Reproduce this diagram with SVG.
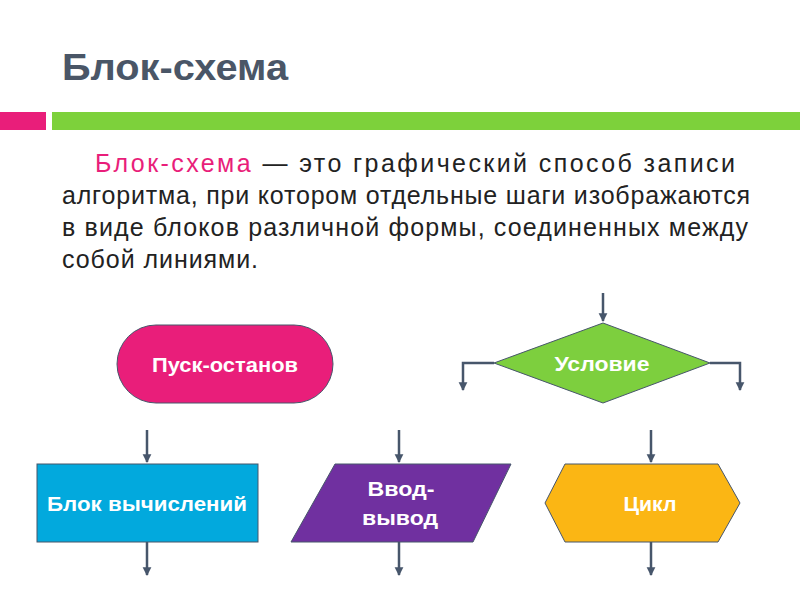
<svg xmlns="http://www.w3.org/2000/svg" width="800" height="600" viewBox="0 0 800 600">
<style>
.t{font-family:"Liberation Sans",Arial,sans-serif}
.p{font-size:25px;fill:#222}
.n{font-size:21px;font-weight:bold;fill:#fff;text-anchor:middle}
.c{stroke:#47566b;stroke-width:2.5;fill:none}
.s{stroke:#47566b;stroke-width:1}
</style>
<defs><marker id="a" viewBox="0 0 10 10" refX="9" refY="5" markerWidth="3.5" markerHeight="4.5" orient="auto"><path d="M0,0L10,5L0,10z" fill="#47566b"/></marker></defs>
<rect width="800" height="600" fill="#fff"/>
<text x="62" y="80" class="t" font-size="37" font-weight="bold" fill="#4a5667" textLength="226" lengthAdjust="spacingAndGlyphs">Блок-схема</text>
<rect x="0" y="112" width="46" height="18" fill="#e91e7a"/>
<rect x="52" y="112" width="748" height="18" fill="#7dd13b"/>
<g class="t p">
<text x="95" y="172" textLength="640"><tspan fill="#e91e7a">Блок-схема</tspan> — это графический способ записи</text>
<text x="62" y="204" textLength="688">алгоритма, при котором отдельные шаги изображаются</text>
<text x="62" y="236" textLength="686">в виде блоков различной формы, соединенных между</text>
<text x="62" y="268" textLength="196">собой линиями.</text>
</g>
<g id="connectors" class="c">
<path d="M603,293V321" marker-end="url(#a)"/>
<path d="M494,363H463V390" marker-end="url(#a)"/>
<path d="M710,363H740V390" marker-end="url(#a)"/>
<path d="M147,430V462" marker-end="url(#a)"/>
<path d="M147,542V575" marker-end="url(#a)"/>
<path d="M399,430V462" marker-end="url(#a)"/>
<path d="M399,542V575" marker-end="url(#a)"/>
<path d="M651,430V462" marker-end="url(#a)"/>
<path d="M651,542V575" marker-end="url(#a)"/>
</g>
<g id="start"><rect x="117" y="325" width="216" height="78" rx="39" fill="#e91e7a" class="s"/><text x="225" y="372" class="t n" textLength="146" lengthAdjust="spacingAndGlyphs">Пуск-останов</text></g>
<g id="cond"><polygon points="603,323 710,363 603,403 494,363" fill="#7dcf3e" class="s"/><text x="602" y="371" class="t n" textLength="95" lengthAdjust="spacingAndGlyphs">Условие</text></g>
<g id="calc"><rect x="37" y="464" width="221" height="78" fill="#02a9dd" class="s"/><text x="147" y="511" class="t n" textLength="200" lengthAdjust="spacingAndGlyphs">Блок вычислений</text></g>
<g id="io"><polygon points="335,464 511,464 473,542 291,542" fill="#7030a0" class="s"/><text x="401" y="496" class="t n" textLength="67" lengthAdjust="spacingAndGlyphs">Ввод-</text><text x="400" y="525" class="t n" textLength="76" lengthAdjust="spacingAndGlyphs">вывод</text></g>
<g id="loop"><polygon points="545,503 565,464 718,464 740,503 718,542 565,542" fill="#fbb614" class="s"/><text x="650" y="511" class="t n" textLength="53" lengthAdjust="spacingAndGlyphs">Цикл</text></g>
</svg>
